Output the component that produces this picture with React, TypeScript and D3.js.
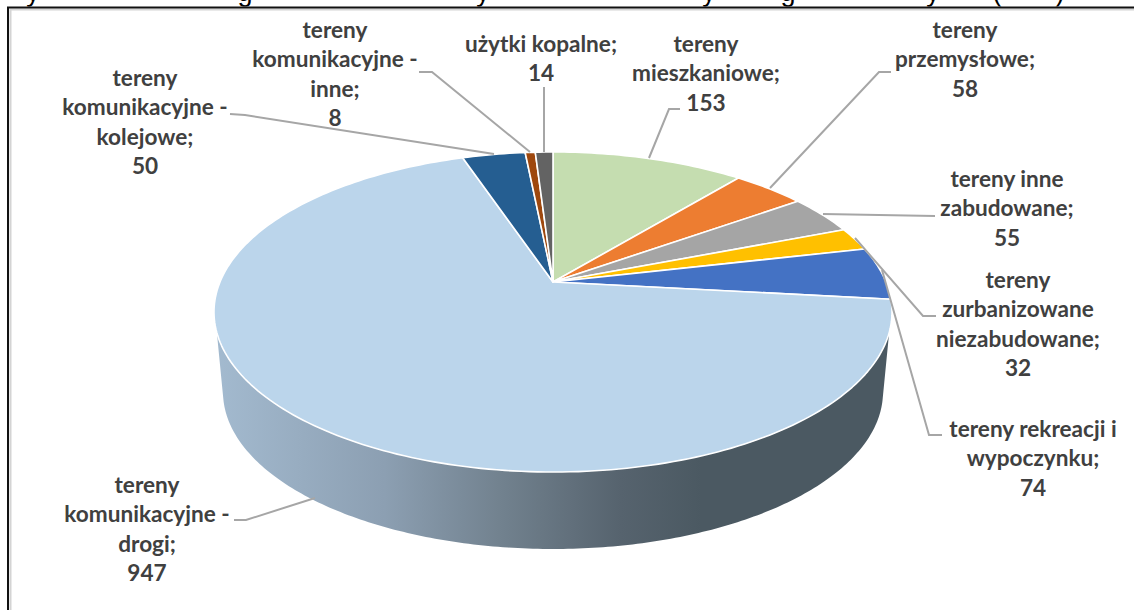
import React from "react";
import * as d3 from "d3";

// ---------- data ----------
const categories = [
  "tereny mieszkaniowe",
  "tereny przemysłowe",
  "tereny inne zabudowane",
  "tereny zurbanizowane niezabudowane",
  "tereny rekreacji i wypoczynku",
  "tereny komunikacyjne - drogi",
  "tereny komunikacyjne - kolejowe",
  "tereny komunikacyjne - inne",
  "użytki kopalne",
];
const values = [153, 58, 55, 32, 74, 947, 50, 8, 14];

// ---------- styling & layout ----------
const colors = ["#C5DDB0", "#ED7D31", "#A5A5A5", "#FFC000", "#4472C4", "#BBD5EB", "#255E91", "#9E480E", "#636363"];
const W = 1134;
const H = 610;
const apex = { x: 553, y: 282 };
const persp = { a: 333, b: 154.4, k: 0.1875 };
const topEllipse = { cx: 553, cy: 312, rx: 339, ry: 160 };
const bottomEllipse = { cx: 553, cy: 392, rx: 330, ry: 157 };

const labelLines: string[][] = [
  ["tereny", "mieszkaniowe;", "153"],
  ["tereny", "przemysłowe;", "58"],
  ["tereny inne", "zabudowane;", "55"],
  ["tereny", "zurbanizowane", "niezabudowane;", "32"],
  ["tereny rekreacji i", "wypoczynku;", "74"],
  ["tereny", "komunikacyjne -", "drogi;", "947"],
  ["tereny", "komunikacyjne -", "kolejowe;", "50"],
  ["tereny", "komunikacyjne -", "inne;", "8"],
  ["użytki kopalne;", "14"],
];
const labelPos = [
  [706, 43], [965, 29], [1007, 178], [1018, 279], [1033, 428],
  [147, 484], [145, 77], [335, 29], [541, 43],
];
const leaders: [number, number][][] = [
  [[680, 109], [669, 109], [649, 158]],
  [[891, 72], [879, 72], [770, 188]],
  [[935, 216], [823, 214]],
  [[936, 316], [923, 316], [855, 238]],
  [[942, 435], [929, 435], [882, 270]],
  [[234, 520], [246, 520], [315, 498]],
  [[230, 114], [245, 115], [494, 154]],
  [[419, 72], [432, 72], [530, 152]],
  [[544, 87], [544, 152]],
];
const sideStops: [number, string][] = [
  [0, "#A3BACF"], [0.25, "#8C9FB2"], [0.42, "#72828F"], [0.6, "#56636E"], [0.72, "#4B5962"], [1, "#4B5962"],
];
// the title of the page the picture was cut from: only its descenders remain
const clippedGlyphs: [string, number][] = [
  ["y", 33], ["g", 245], ["y", 483], ["y", 709], ["g", 788], ["y", 933], ["(", 997], [")", 1060],
];

// perspective view of a circle: u right, v towards the back
const project = (angle: number, r = 1): [number, number] => {
  const u = Math.sin(angle) * r;
  const v = Math.cos(angle) * r;
  const d = 1 + persp.k * v;
  return [apex.x + (persp.a * u) / d, apex.y - (persp.b * v) / d];
};

const pie = d3.pie<number>().sort(null).startAngle(0).endAngle(2 * Math.PI);
const line = d3.line();

const slicePath = (start: number, end: number) => {
  const n = Math.max(2, Math.ceil((end - start) / 0.02));
  const rim = d3.range(n + 1).map((i) => project(start + ((end - start) * i) / n));
  return line([[apex.x, apex.y], ...rim]) + "Z";
};

const ellipsePt = (e: typeof topEllipse, t: number): [number, number] => [
  e.cx + e.rx * Math.cos(t),
  e.cy + e.ry * Math.sin(t),
];

const sidePath = () => {
  const t0 = 0.05;
  const n = 200;
  const bottom = d3.range(n + 1).map((i) => ellipsePt(bottomEllipse, t0 + ((Math.PI - 2 * t0) * i) / n));
  const top = d3.range(n + 1).map((i) => ellipsePt(topEllipse, Math.PI - 0.13 - ((Math.PI - 0.26) * i) / n));
  return line([...bottom, ...top]) + "Z";
};

const leaderLine = d3.line();

export default function App() {
  const arcs = pie(values);
  return (
    <svg
      width={W}
      height={H}
      viewBox={`0 0 ${W} ${H}`}
      style={{ position: "absolute", left: 0, top: 0, background: "#fff", display: "block" }}
    >
      <defs>
        <linearGradient id="side" gradientUnits="userSpaceOnUse" x1={216} x2={890} y1={0} y2={0}>
          {sideStops.map(([o, c]) => (
            <stop key={o} offset={o} stopColor={c} />
          ))}
        </linearGradient>
        <clipPath id="titleClip">
          <rect x={0} y={0} width={W} height={6.5} />
        </clipPath>
      </defs>

      <g clipPath="url(#titleClip)" fontFamily="Liberation Sans, sans-serif" fontSize={27} fill="#000">
        {clippedGlyphs.map(([g, x], i) => (
          <text key={i} x={x} y={1} textAnchor="middle">
            {g}
          </text>
        ))}
      </g>

      {/* frame */}
      <path d={`M10.5 ${H}V9.5H${W}`} fill="none" stroke="#d4d4d4" strokeWidth={2} />
      <path d={`M8 ${H}V7.5H${W}`} fill="none" stroke="#111" strokeWidth={2} />

      <path d={sidePath()} fill="url(#side)" />

      <g stroke="#fff" strokeWidth={1.6} strokeLinejoin="round">
        {arcs.map((a, i) => (
          <path key={categories[i]} d={slicePath(a.startAngle, a.endAngle)} fill={colors[i]} />
        ))}
      </g>

      <g fill="none" stroke="#A6A6A6" strokeWidth={2}>
        {leaders.map((p, i) => (
          <path key={i} d={leaderLine(p) ?? ""} />
        ))}
      </g>

      <g fontFamily="Lato, sans-serif" fontWeight={700} fontSize={22.6} fill="#404040" textAnchor="middle">
        {labelLines.map((lines, i) => (
          <text key={categories[i]} x={labelPos[i][0]} y={labelPos[i][1]} dominantBaseline="central">
            {lines.map((l, j) => (
              <tspan key={j} x={labelPos[i][0]} y={labelPos[i][1] + j * 29.3}>
                {l}
              </tspan>
            ))}
          </text>
        ))}
      </g>
    </svg>
  );
}
